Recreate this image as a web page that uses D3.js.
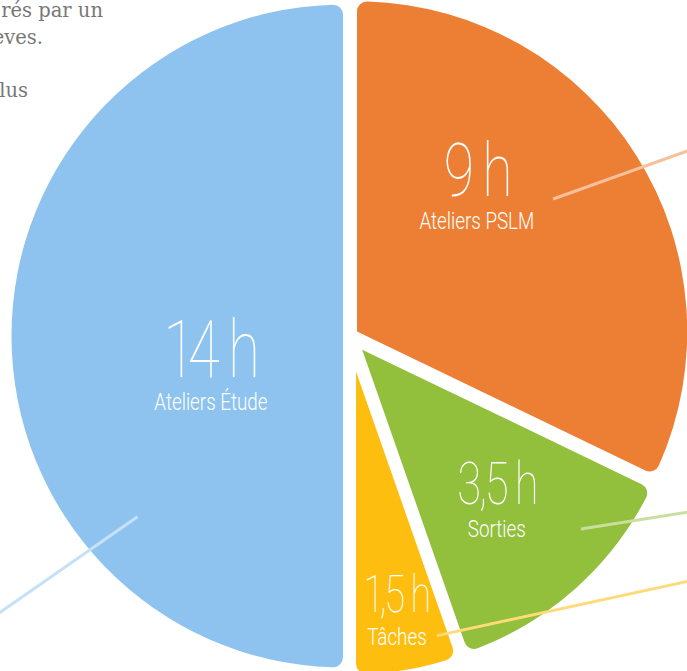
<!DOCTYPE html>
<html><head><meta charset="utf-8">
<script src="https://cdn.jsdelivr.net/npm/d3@7"></script>
<style>html,body{margin:0;padding:0;background:#fff;overflow:hidden}</style>
</head><body>
<svg id="chart" width="687" height="671"></svg>
<script>
// ---- data ----
const categories = ["Ateliers PSLM", "Sorties", "Tâches", "Ateliers Étude"];
const hours = [9, 3.5, 1.5, 14];
const valueLabels = ["9 h", "3,5 h", "1,5 h", "14 h"];
const introLines = ["rés par un", "eves.", "", "lus"];

// ---- styles / layout ----
const colors = ["#ed7f35", "#92bf3c", "#fdbe0f", "#8dc3ee"];
const leaderColors = ["#f6c09a", "#cadf9f", "#fedb7a", "#c6e1f7"];
const numberSizes = [75, 59, 51, 79];
const labelRadius = [189, 223, 280, 145];
const labelNudgeDeg = [-15.7, 0.6, 0, -16.4];
const leaderStartDeg = [56, 129.9, 163.8, 229.6];
const leaderStartR = [245, 301, 312, 279];
const leaderDirDeg = [70.3, 81, 77.8, 235.2];
const introRight = [103, 43, 0, 28];

const W = 687, H = 671;
const cx = 350, cy = 336, R = 338.5, gap = 7, corner = 10;

const svg = d3.select("#chart");
const rad = d => d * Math.PI / 180;
const polar = (a, r) => [r * Math.sin(a), -r * Math.cos(a)];

const pie = d3.pie().sort(null).value(d => d)(hours);

const root = svg.append("g").attr("transform", `translate(${cx},${cy})`);

// slices
pie.forEach((p, i) => {
  const mid = (p.startAngle + p.endAngle) / 2;
  const half = (p.endAngle - p.startAngle) / 2;
  const d = Math.min(gap / Math.sin(half), 36);
  const [ox, oy] = polar(mid, d);
  const arc = d3.arc().innerRadius(0).outerRadius(R - d).cornerRadius(corner);
  root.append("path")
    .attr("transform", `translate(${ox},${oy})`)
    .attr("d", arc(p))
    .attr("fill", colors[i]);
});

// leader lines
pie.forEach((p, i) => {
  const [sx, sy] = polar(rad(leaderStartDeg[i]), leaderStartR[i]);
  const [dx, dy] = polar(rad(leaderDirDeg[i]), 400);
  root.append("line")
    .attr("x1", sx).attr("y1", sy)
    .attr("x2", sx + dx).attr("y2", sy + dy)
    .attr("stroke", leaderColors[i])
    .attr("stroke-width", 3);
});

// labels
pie.forEach((p, i) => {
  const mid = (p.startAngle + p.endAngle) / 2 + rad(labelNudgeDeg[i]);
  const [lx, ly] = polar(mid, labelRadius[i]);
  const g = root.append("g").attr("transform", `translate(${lx},${ly})`);
  g.append("text")
    .attr("text-anchor", "middle")
    .attr("transform", "scale(0.74,1)")
    .attr("font-family", "Roboto, 'Open Sans', sans-serif")
    .attr("font-weight", 100)
    .attr("font-size", numberSizes[i])
    .attr("letter-spacing", "-0.05em")
    .style("font-variant-numeric", "proportional-nums")
    .attr("fill", "#fff")
    .text(valueLabels[i]);
  g.append("text")
    .attr("text-anchor", "middle")
    .attr("y", 33)
    .attr("transform", "scale(0.8,1)")
    .attr("font-family", "Roboto, 'Open Sans', sans-serif")
    .attr("font-weight", 300)
    .attr("font-size", 23.5)
    .attr("fill", "#fff")
    .text(categories[i]);
});

// intro paragraph (cropped)
introLines.forEach((t, i) => {
  if (!t) return;
  svg.append("text")
    .attr("x", introRight[i])
    .attr("y", 17 + i * 26.7)
    .attr("text-anchor", "end")
    .attr("font-family", "'DejaVu Serif', serif")
    .attr("font-size", 19.5)
    .attr("fill", "#777")
    .text(t);
});
</script>
</body></html>
